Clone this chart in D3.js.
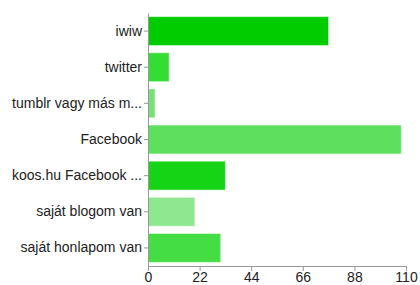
<!DOCTYPE html>
<html>
<head>
<meta charset="utf-8">
<script src="https://cdn.jsdelivr.net/npm/d3@7"></script>
<style>
  body { margin: 0; background: #fff; }
  svg { display: block; font-family: "Liberation Sans", Arial, sans-serif; }
</style>
</head>
<body>
<svg width="420" height="285"></svg>
<script>
// adatok
const categories = ["iwiw", "twitter", "tumblr vagy más m...", "Facebook", "koos.hu Facebook ...", "saját blogom van", "saját honlapom van"];
const values = [77, 9, 3, 108, 33, 20, 31];
const colors = ["#00cc00", "#33dd33", "#77e077", "#5ee05e", "#15d415", "#8fe88f", "#44dd44"];
const ticks = [0, 22, 44, 66, 88, 110];

const svg = d3.select("svg");
const plotLeft = 148, plotRight = 406, plotTop = 13, plotBottom = 266;

const x = d3.scaleLinear().domain([0, 110]).range([plotLeft, plotRight]);
const y = d3.scaleBand().domain(categories).range([plotTop, plotBottom]).paddingInner(0.2).paddingOuter(0.1);

// balkok
svg.selectAll("rect.bar")
  .data(categories)
  .enter()
  .append("rect")
  .attr("class", "bar")
  .attr("x", x(0))
  .attr("y", d => y(d))
  .attr("width", (d, i) => x(values[i]) - x(0))
  .attr("height", y.bandwidth())
  .attr("fill", (d, i) => colors[i])
  .attr("stroke", "#ffffff")
  .attr("stroke-opacity", 0.5);

// x tengely
const xAxis = svg.append("g")
  .attr("transform", "translate(0," + plotBottom + ")")
  .call(d3.axisBottom(x).tickValues(ticks).tickSize(5).tickPadding(1).tickSizeOuter(0));
xAxis.select(".domain").attr("stroke", "#999");
xAxis.selectAll(".tick line").attr("stroke", "#999");
xAxis.selectAll("text").attr("fill", "#222").attr("font-size", 14);

// y tengely
const yAxis = svg.append("g")
  .attr("transform", "translate(" + plotLeft + ",0)")
  .call(d3.axisLeft(y).tickSize(4).tickPadding(2).tickSizeOuter(0));
yAxis.select(".domain").attr("stroke", "#999");
yAxis.selectAll(".tick line").attr("stroke", "#999");
yAxis.selectAll("text").attr("fill", "#222").attr("font-size", 14);
</script>
</body>
</html>
